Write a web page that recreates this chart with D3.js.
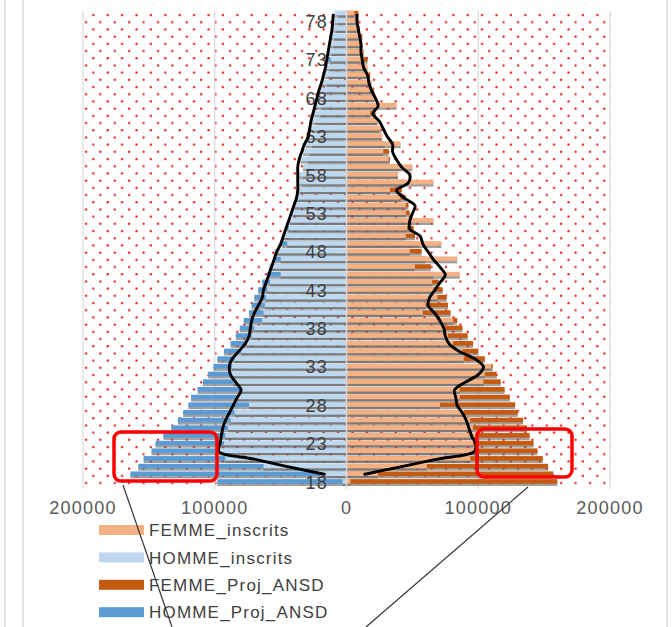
<!DOCTYPE html>
<html>
<head>
<meta charset="utf-8">
<script src="https://cdn.jsdelivr.net/npm/d3@7"></script>
<style>
  body { margin: 0; background: #fff; }
  svg { display: block; font-family: "Liberation Sans", Arial, sans-serif; }
</style>
</head>
<body>
<svg id="chart" width="672" height="627"></svg>
<script>
// Age categories (bottom to top)
const ages = d3.range(18, 80);

// Values in thousands, one per age 18..79
const femmeInscrits = [3, 24, 61, 94, 99, 96, 99, 96, 94, 89, 71, 86, 86, 104, 105, 110, 89, 88, 81, 77,
  75, 81, 58, 60, 69, 66, 65, 86, 52, 84, 48, 72, 45, 46, 66, 45, 45, 41, 33, 66,
  39, 50, 32, 28, 41, 27, 26, 24, 18, 38, 22, 19, 19, 17, 16, 13, 13, 12, 10, 9, 7, 6];
const hommeInscrits = [3, 20, 63, 92, 96, 93, 92, 90, 88, 85, 74, 84, 80, 86, 88, 87, 85, 80, 76, 72,
  70, 64, 63, 62, 61, 60, 58, 50, 59, 50, 55, 45, 49, 44, 43, 41, 40, 38, 37, 37,
  36, 33, 35, 33, 31, 29, 27, 26, 25, 24, 22, 20, 19, 17, 16, 12, 14, 13, 12, 11, 10, 9];
const femmeProj = [160, 157, 153, 149, 145, 142, 139, 137, 134, 130, 128, 124, 120, 117, 114, 111, 105, 100, 96, 92,
  88, 84, 79, 77, 76, 73, 70, 66, 64, 60, 57, 55, 52, 51, 50, 48, 47, 45, 42, 42,
  39, 41, 33, 32, 29, 27, 25, 23, 22, 22, 21, 21, 18, 18, 15, 16, 13, 12, 12, 10, 9, 9];
const hommeProj = [98, 164, 158, 154, 148, 145, 139, 133, 128, 124, 120, 118, 113, 109, 105, 101, 98, 93, 88, 84,
  81, 78, 74, 72, 70, 67, 64, 60, 57, 55, 53, 49, 47, 45, 43, 41, 39, 37, 35, 34,
  33, 31, 29, 28, 26, 25, 23, 22, 20, 19, 17, 16, 15, 14, 13, 14, 11, 10, 9, 8, 7, 6];

// Black smoothed lines (no value at 18)
const femmeLine = [null, 13, 41, 69, 97, 98, 95, 93, 91, 88, 84, 83, 82, 90, 100, 104, 98, 86, 78, 75,
  74, 71, 67, 62, 63, 67, 71, 75, 71, 66, 62, 58, 56, 48, 48, 50, 52, 44, 38, 47,
  48, 42, 38, 35, 35, 31, 28, 25, 20, 24, 22, 19, 17, 16, 13, 12, 11, 11, 10, 9, 8, 8];
const hommeLine = [null, 16, 44, 70, 97, 96, 95, 94, 92, 89, 86, 83, 80, 84, 88, 89, 87, 82, 77, 74,
  73, 72, 70, 67, 64, 63, 61, 59, 57, 55, 53, 50, 48, 46, 44, 42, 40, 38, 37, 37,
  37, 37, 36, 34, 32, 29, 28, 27, 25.5, 24, 22.5, 21, 19, 17.5, 16, 15, 14, 13, 12, 11, 10.5, 10];

const xTicks = [-200, -100, 0, 100, 200];
const xTickLabels = ["200000", "100000", "0", "100000", "200000"];
const yTickAges = [18, 23, 28, 33, 38, 43, 48, 53, 58, 63, 68, 73, 78];

const legendItems = [
  { name: "FEMME_inscrits", color: "#F4B183" },
  { name: "HOMME_inscrits", color: "#BDD7EE" },
  { name: "FEMME_Proj_ANSD", color: "#C55A11" },
  { name: "HOMME_Proj_ANSD", color: "#5B9BD5" }
];

const svg = d3.select("#chart");
const plot = { left: 83, right: 611, top: 11, bottom: 489 };

const x = d3.scaleLinear().domain([-200, 200]).range([83, 610]);
const y = d3.scaleBand().domain(ages).range([486, 10]);
const bh = y.bandwidth() * 0.6;

// dotted background pattern
const defs = svg.append("defs");
const pat = defs.append("pattern")
    .attr("id", "dots")
    .attr("patternUnits", "userSpaceOnUse")
    .attr("x", plot.left).attr("y", plot.top)
    .attr("width", 14.4).attr("height", 14.4);
pat.append("circle").attr("cx", 10.3).attr("cy", 4).attr("r", 1.15).attr("fill", "#e01010");
pat.append("circle").attr("cx", 3).attr("cy", 11.2).attr("r", 1.15).attr("fill", "#e01010");

// outer frame lines
[5, 23, 667].forEach(px => {
  svg.append("line").attr("x1", px).attr("x2", px).attr("y1", 0).attr("y2", 627)
    .attr("stroke", "#e2e2e2").attr("stroke-width", 2);
});

svg.append("rect")
    .attr("x", plot.left).attr("y", plot.top)
    .attr("width", plot.right - plot.left).attr("height", plot.bottom - plot.top)
    .attr("fill", "url(#dots)");

// gridlines
svg.append("g").selectAll("line")
  .data(xTicks.filter(t => t !== 0))
  .join("line")
    .attr("x1", d => x(d)).attr("x2", d => x(d))
    .attr("y1", plot.top).attr("y2", plot.bottom)
    .attr("stroke", "#d9d9d9").attr("stroke-width", 1.2);

// bars: shadow then bar, Proj first, inscrits on top
function drawSeries(values, sign, color) {
  const g = svg.append("g");
  const rows = ages.map((a, i) => ({ age: a, v: values[i] }));
  const x0 = d => sign < 0 ? x(-d.v) : x(0);
  const w = d => Math.abs(x(d.v) - x(0));
  g.selectAll("rect.sh")
    .data(rows)
    .join("rect")
      .attr("class", "sh")
      .attr("x", x0)
      .attr("y", d => y(d.age) + 0.8 + 2.3)
      .attr("width", w)
      .attr("height", bh)
      .attr("fill", "#666")
      .attr("opacity", 0.62);
  g.selectAll("rect.bar")
    .data(rows)
    .join("rect")
      .attr("class", "bar")
      .attr("x", x0)
      .attr("y", d => y(d.age) + 0.8)
      .attr("width", w)
      .attr("height", bh)
      .attr("fill", color);
}
drawSeries(hommeProj, -1, "#5B9BD5");
drawSeries(femmeProj, 1, "#C55A11");
drawSeries(hommeInscrits, -1, "#BDD7EE");
drawSeries(femmeInscrits, 1, "#F4B183");

// centre axis
svg.append("line")
    .attr("x1", x(0)).attr("x2", x(0))
    .attr("y1", plot.top).attr("y2", plot.bottom)
    .attr("stroke", "#d9d9d9").attr("stroke-width", 1.5);

// y labels
svg.append("g").selectAll("text")
  .data(yTickAges)
  .join("text")
    .attr("x", 328)
    .attr("y", d => y(d) + y.bandwidth() / 2)
    .attr("dy", "0.36em")
    .attr("text-anchor", "end")
    .attr("font-size", 18)
    .attr("letter-spacing", 1.2)
    .attr("fill", "#404040")
    .text(d => d);

// black smoothed lines
const cy = a => y(a) + y.bandwidth() / 2;
const lineGen = sign => d3.line()
    .defined(d => d.v != null)
    .x(d => x(sign * d.v))
    .y(d => cy(d.age))
    .curve(d3.curveCatmullRom.alpha(0.5));
svg.append("path")
    .datum(ages.map((a, i) => ({ age: a, v: hommeLine[i] })))
    .attr("d", lineGen(-1))
    .attr("fill", "none").attr("stroke", "#000").attr("stroke-width", 2.9);
svg.append("path")
    .datum(ages.map((a, i) => ({ age: a, v: femmeLine[i] })))
    .attr("d", lineGen(1))
    .attr("fill", "none").attr("stroke", "#000").attr("stroke-width", 2.9);

// x labels
svg.append("g").selectAll("text")
  .data(xTicks)
  .join("text")
    .attr("x", d => x(d))
    .attr("y", 508)
    .attr("dy", "0.36em")
    .attr("text-anchor", "middle")
    .attr("font-size", 18)
    .attr("letter-spacing", 1.2)
    .attr("fill", "#595959")
    .text((d, i) => xTickLabels[i]);

// legend
const leg = svg.append("g").selectAll("g")
  .data(legendItems)
  .join("g")
    .attr("transform", (d, i) => `translate(99,${530 + i * 27.4})`);
leg.append("rect")
    .attr("x", 0).attr("y", -5).attr("width", 45).attr("height", 10)
    .attr("fill", d => d.color);
leg.append("text")
    .attr("x", 50).attr("dy", "0.36em")
    .attr("font-size", 17)
    .attr("letter-spacing", 1.2)
    .attr("fill", "#404040")
    .text(d => d.name);

// annotations: red boxes and pointer lines
svg.append("rect")
    .attr("x", 114).attr("y", 432).attr("width", 103).attr("height", 49)
    .attr("rx", 7).attr("fill", "none").attr("stroke", "#ff0000").attr("stroke-width", 3.5);
svg.append("rect")
    .attr("x", 477).attr("y", 429).attr("width", 95).attr("height", 48)
    .attr("rx", 7).attr("fill", "none").attr("stroke", "#ff0000").attr("stroke-width", 3.5);
svg.append("line")
    .attr("x1", 123).attr("y1", 485).attr("x2", 172).attr("y2", 627)
    .attr("stroke", "#333").attr("stroke-width", 1.2);
svg.append("line")
    .attr("x1", 528).attr("y1", 487).attr("x2", 366).attr("y2", 627)
    .attr("stroke", "#333").attr("stroke-width", 1.2);
</script>
</body>
</html>
